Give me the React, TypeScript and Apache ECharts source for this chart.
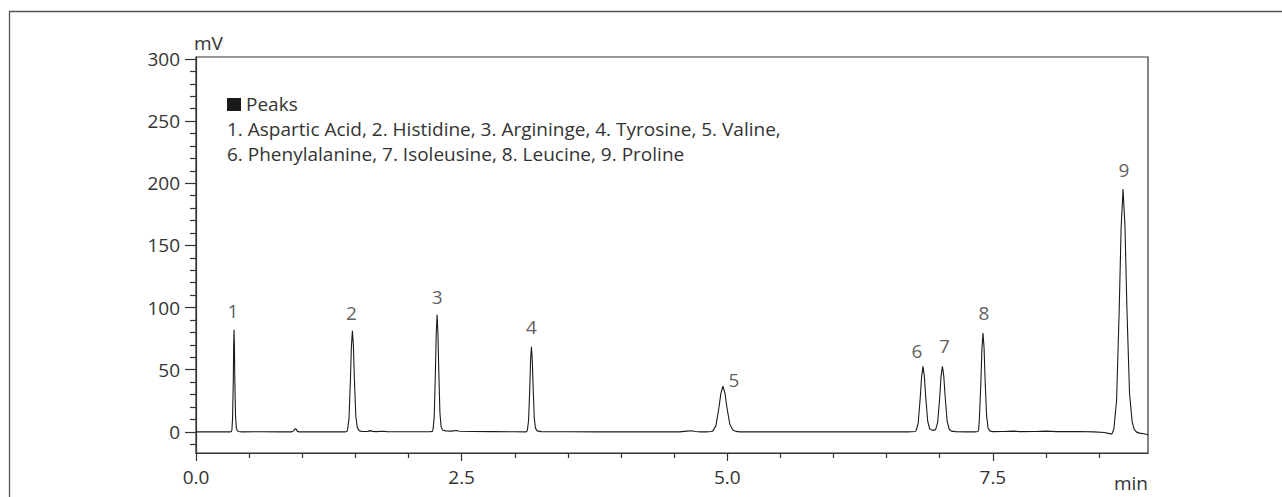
import React, { useEffect, useRef } from "react";
import * as echarts from "echarts";

// Chromatogram trace: [time (min), signal (mV)]
const trace: [number, number][] = [
  [0.0, 0.0], [0.1, 0.1], [0.2, 0.0], [0.32, 0.0],
  // peak 1
  [0.333, 0.3], [0.338, 1.8], [0.344, 10.5], [0.351, 41], [0.3545, 69], [0.358, 82.2],
  [0.3615, 70], [0.365, 43], [0.372, 13], [0.379, 3.5], [0.388, 1.0], [0.40, 0.3], [0.43, 0.0],
  [0.6, 0.1], [0.8, 0.0],
  // small bump
  [0.90, 0.0], [0.92, 0.8], [0.93, 2.3], [0.937, 2.6], [0.945, 1.8], [0.955, 0.4], [0.97, 0.0],
  [1.1, 0.1], [1.3, 0.0], [1.40, 0.0],
  // peak 2
  [1.420, 0.3], [1.426, 1.6], [1.440, 10.5], [1.453, 40.5], [1.4625, 68.5], [1.472, 81.4],
  [1.4815, 69], [1.491, 42], [1.504, 13], [1.518, 3.5], [1.535, 1.0], [1.56, 0.3],
  [1.62, 0.4], [1.64, 1.0], [1.66, 0.4], [1.70, 0.2], [1.75, 0.5], [1.80, 0.2], [1.95, 0.1], [2.1, 0.1],
  [2.20, 0.1],
  // peak 3
  [2.225, 0.4], [2.231, 2.0], [2.242, 12], [2.253, 47], [2.261, 79], [2.269, 94.3],
  [2.277, 80], [2.285, 49], [2.296, 15], [2.307, 4], [2.32, 1.5], [2.35, 0.8], [2.40, 0.6],
  [2.45, 1.1], [2.48, 0.5], [2.60, 0.3], [2.8, 0.2], [3.0, 0.1], [3.10, 0.0],
  // peak 4
  [3.113, 0.3], [3.119, 1.5], [3.130, 9], [3.141, 34], [3.149, 57.5], [3.157, 68.5],
  [3.165, 58], [3.173, 36], [3.184, 11], [3.195, 3], [3.21, 0.8], [3.25, 0.2],
  [3.5, 0.1], [3.8, 0.0], [4.1, 0.1], [4.4, 0.0], [4.55, 0.0],
  // small bump
  [4.62, 0.6], [4.66, 0.9], [4.70, 0.3], [4.75, 0.0], [4.80, 0.0],
  // peak 5
  [4.850, 0.3], [4.865, 0.8], [4.893, 4.8], [4.920, 18.4], [4.9395, 30.8], [4.959, 36.7],
  [4.9785, 31.2], [4.998, 19], [5.025, 5.9], [5.053, 1.5], [5.08, 0.4], [5.12, 0.0],
  [5.4, 0.0], [5.7, 0.1], [6.0, 0.0], [6.3, 0.1], [6.5, 0.0], [6.70, 0.0],
  // peak 6
  [6.770, 0.3], [6.778, 1.1], [6.797, 6.9], [6.8155, 26.4], [6.829, 44.3], [6.842, 52.7],
  [6.855, 44.8], [6.8685, 27.4], [6.887, 8.4], [6.905, 2.5], [6.93, 1.2],
  // peak 7
  [6.961, 1.8], [6.980, 7.5], [6.9985, 26.4], [7.012, 44.3], [7.025, 52.7],
  [7.038, 44.8], [7.0515, 27.4], [7.07, 8.4], [7.089, 2.1], [7.11, 0.6], [7.15, 0.2], [7.25, 0.0],
  [7.33, 0.0],
  // peak 8
  [7.359, 0.3], [7.366, 1.6], [7.373, 10.3], [7.387, 39.8], [7.397, 66.9], [7.407, 79.6],
  [7.417, 67.7], [7.427, 41.4], [7.441, 12.7], [7.455, 3.2], [7.47, 0.8], [7.50, 0.2],
  [7.60, 0.3], [7.70, 0.6], [7.75, 0.2], [7.90, 0.3], [8.00, 0.6], [8.10, 0.2], [8.30, 0.3],
  [8.45, 0.0], [8.55, -0.5], [8.62, -1.8],
  // peak 9
  [8.639, 2.5], [8.664, 25], [8.689, 98], [8.707, 164], [8.725, 195.3],
  [8.743, 166], [8.761, 101], [8.786, 31], [8.811, 8], [8.83, 2], [8.85, 0.0],
  [8.88, -1.0], [8.92, -1.5], [8.96, -2.3],
];

const peakNumbers = ["1", "2", "3", "4", "5", "6", "7", "8", "9"];
const peakTimes = [0.358, 1.472, 2.269, 3.157, 4.959, 6.842, 7.025, 7.407, 8.725];
const peakHeights = [82.2, 81.4, 94.3, 68.5, 36.7, 52.7, 52.7, 79.6, 195.3];

const xMajorTicks = [0, 2.5, 5, 7.5];
const xMinorTicks = [0.5, 1, 1.5, 2, 3, 3.5, 4, 4.5, 5.5, 6, 6.5, 7, 8, 8.5];
const yMajorTicks = [0, 50, 100, 150, 200, 250, 300];
const yMinorTicks = [-10, 10, 20, 30, 40, 60, 70, 80, 90, 110, 120, 130, 140, 160, 170, 180, 190,
  210, 220, 230, 240, 260, 270, 280, 290];

const xUnit = "min";
const yUnit = "mV";
const legendTitle = "Peaks";
const legendLines = [
  "1. Aspartic Acid, 2. Histidine, 3. Argininge, 4. Tyrosine, 5. Valine,",
  "6. Phenylalanine, 7. Isoleusine, 8. Leucine, 9. Proline",
];

const FONT = "'Open Sans', 'Noto Sans', sans-serif";
const FS = 19;
const TXT = "#333333";
const X_MIN = 0, X_MAX = 8.96, Y_MIN = -17, Y_MAX = 301.6;

const labelOffsets: [number, number][] = [
  [-1, -19], [-1, -18], [0, -18], [0, -20], [11, -6], [-6, -15], [2, -20], [1, -20], [1, -19],
];

export default function App() {
  const ref = useRef<HTMLDivElement>(null);
  useEffect(() => {
    if (!ref.current) return;
    const chart = echarts.init(ref.current, undefined, { renderer: "svg" });
    const axisLineStyle = { color: "#333333", width: 1.2 };
    chart.setOption({
      animation: false,
      textStyle: { fontFamily: FONT },
      grid: {
        left: 196, top: 57, width: 952, height: 396,
        show: true, borderColor: "#333333", borderWidth: 1.2, backgroundColor: "transparent",
      },
      xAxis: [
        {
          type: "value", min: X_MIN, max: X_MAX, position: "bottom",
          axisLine: { show: true, onZero: false, lineStyle: axisLineStyle },
          axisTick: { show: true, length: 8, customValues: xMajorTicks, lineStyle: axisLineStyle },
          axisLabel: {
            show: true, customValues: xMajorTicks, margin: 14,
            color: TXT, fontSize: FS, fontFamily: FONT,
            formatter: (v: number) => v.toFixed(1),
          },
          splitLine: { show: false },
        },
        {
          type: "value", min: X_MIN, max: X_MAX, position: "bottom",
          axisLine: { show: false, onZero: false },
          axisTick: { show: true, length: 5, customValues: xMinorTicks, lineStyle: axisLineStyle },
          axisLabel: { show: false },
          splitLine: { show: false },
        },
      ],
      yAxis: [
        {
          type: "value", min: Y_MIN, max: Y_MAX, position: "left",
          name: yUnit, nameLocation: "end", nameGap: 14,
          nameTextStyle: { color: TXT, fontSize: FS, fontFamily: FONT, align: "left", verticalAlign: "middle", padding: [0, 0, 0, -2] },
          axisLine: { show: true, onZero: false, lineStyle: axisLineStyle },
          axisTick: { show: true, length: 11, customValues: yMajorTicks, lineStyle: axisLineStyle },
          axisLabel: {
            show: true, customValues: yMajorTicks, margin: 16,
            color: TXT, fontSize: FS, fontFamily: FONT,
          },
          splitLine: { show: false },
        },
        {
          type: "value", min: Y_MIN, max: Y_MAX, position: "left",
          axisLine: { show: false, onZero: false },
          axisTick: { show: true, length: 6, customValues: yMinorTicks, lineStyle: axisLineStyle },
          axisLabel: { show: false },
          splitLine: { show: false },
        },
      ],
      series: [
        {
          type: "line", xAxisIndex: 0, yAxisIndex: 0,
          data: trace, showSymbol: false, symbol: "none",
          lineStyle: { color: "#1a1a1a", width: 1.1 },
          clip: true,
        },
        {
          type: "scatter", xAxisIndex: 0, yAxisIndex: 0,
          symbolSize: 0,
          itemStyle: { color: TXT },
          data: peakTimes.map((t, i) => ({
            value: [t, peakHeights[i]],
            name: peakNumbers[i],
            label: { offset: labelOffsets[i] },
          })),
          label: {
            show: true, position: "inside", formatter: "{b}",
            color: TXT, fontSize: FS, fontFamily: FONT, textBorderWidth: 0,
          },
          silent: true,
        },
      ],
      graphic: [
        { type: "line", shape: { x1: 9, y1: 11.5, x2: 1282, y2: 11.5 }, style: { stroke: "#555555", lineWidth: 1.3 } },
        { type: "line", shape: { x1: 9.5, y1: 11, x2: 9.5, y2: 497 }, style: { stroke: "#555555", lineWidth: 1.3 } },
        {
          type: "text", x: 1148, y: 483,
          style: { text: xUnit, fill: TXT, fontSize: FS, fontFamily: FONT, align: "right", verticalAlign: "middle" },
        },
        { type: "rect", shape: { x: 227, y: 98, width: 14, height: 13 }, style: { fill: "#1a1a1a" } },
        {
          type: "text", x: 246, y: 104,
          style: { text: legendTitle, fill: TXT, fontSize: FS, fontFamily: FONT, verticalAlign: "middle" },
        },
        ...legendLines.map((line, i) => ({
          type: "text", x: 227, y: 129 + i * 24.5,
          style: { text: line, fill: TXT, fontSize: FS, fontFamily: FONT, verticalAlign: "middle" },
        })),
      ],
    });
    return () => chart.dispose();
  }, []);
  return (
    <div
      ref={ref}
      style={{ position: "fixed", left: 0, top: 0, width: 1282, height: 497, background: "#fff" }}
    />
  );
}
